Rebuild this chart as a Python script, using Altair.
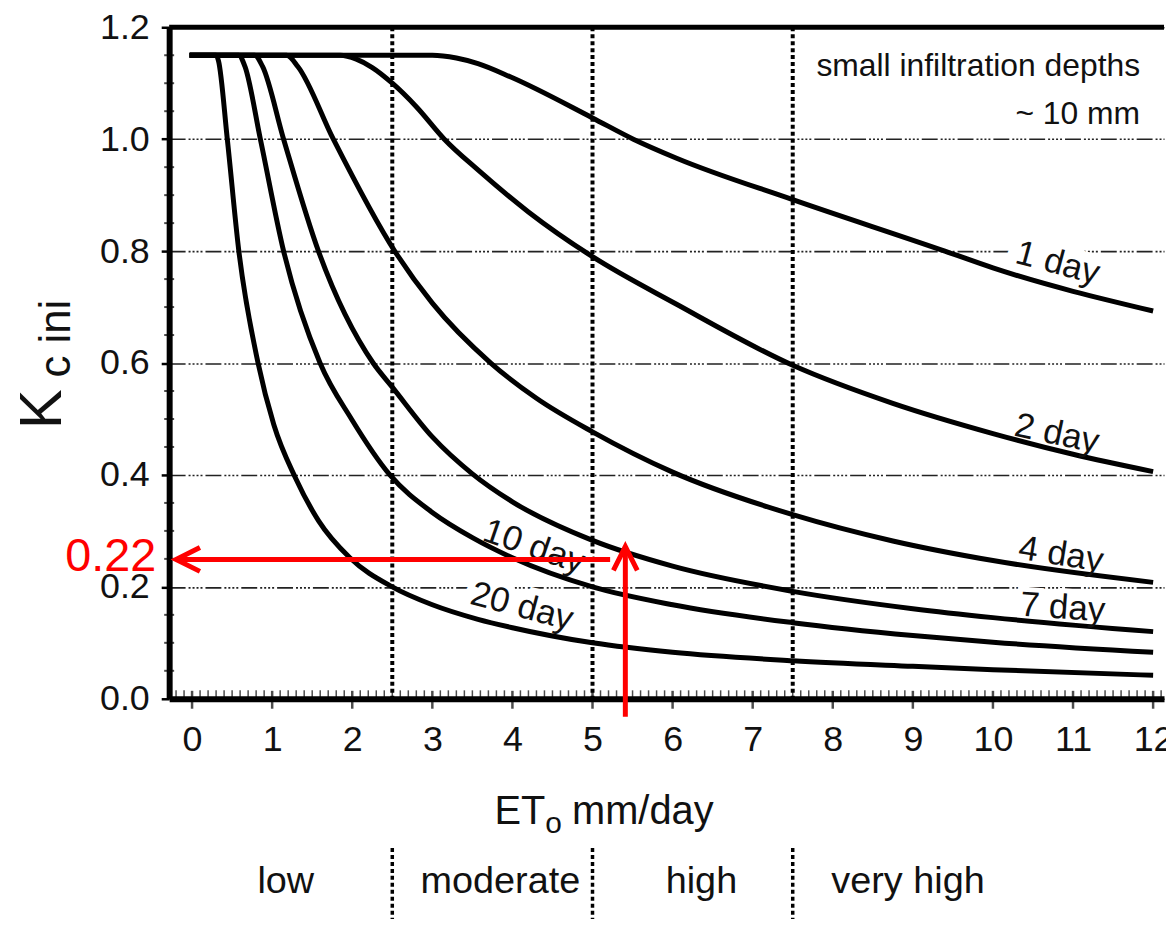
import altair as alt
import numpy as np
import pandas as pd

FONT = "Liberation Sans"
INK = "#111111"
RED = "#ff0000"

# ---------------- data ----------------
curve_names = ["20 day", "10 day", "7 day", "4 day", "2 day", "1 day"]

et_20 = [-0.03, 0.30, 0.33, 0.44, 0.584, 0.824, 1.02, 1.29, 1.58, 1.97, 2.5, 3.0, 3.57, 4.0, 5.0, 6.0, 7.5, 9.0, 10.0, 12.0]
kc_20 = [1.15, 1.15, 1.14, 1.00, 0.80, 0.60, 0.49, 0.395, 0.318, 0.252, 0.200, 0.168, 0.142, 0.127, 0.100, 0.083, 0.068, 0.058, 0.052, 0.042]

et_10 = [-0.03, 0.58, 0.66, 0.853, 1.143, 1.598, 1.99, 2.47, 3.0, 3.5, 4.0, 5.0, 6.0, 7.5, 9.0, 10.0, 12.0]
kc_10 = [1.15, 1.15, 1.13, 1.00, 0.80, 0.60, 0.50, 0.40, 0.333, 0.288, 0.252, 0.200, 0.168, 0.136, 0.113, 0.101, 0.083]

et_7 = [-0.03, 0.78, 0.88, 1.143, 1.578, 2.261, 2.5, 3.0, 3.5, 4.0, 5.0, 6.0, 7.5, 9.0, 10.0, 12.0]
kc_7 = [1.15, 1.15, 1.13, 1.00, 0.80, 0.60, 0.557, 0.468, 0.402, 0.352, 0.283, 0.237, 0.192, 0.161, 0.145, 0.120]

et_4 = [-0.03, 1.18, 1.32, 1.764, 2.53, 3.0, 3.73, 4.3, 5.0, 6.0, 7.5, 8.75, 10.0, 12.0]
kc_4 = [1.15, 1.15, 1.13, 1.00, 0.80, 0.707, 0.60, 0.537, 0.477, 0.405, 0.329, 0.282, 0.247, 0.208]

et_2 = [-0.03, 1.85, 2.05, 2.25, 2.5, 2.8, 3.15, 3.57, 4.2, 5.0, 6.05, 7.5, 8.75, 10.0, 11.0, 12.0]
kc_2 = [1.15, 1.15, 1.143, 1.128, 1.10, 1.058, 1.00, 0.945, 0.87, 0.79, 0.705, 0.596, 0.528, 0.474, 0.437, 0.406]

et_1 = [-0.03, 3.0, 3.3, 3.57, 3.98, 5.0, 5.51, 6.05, 7.5, 9.4, 10.0, 12.0]
kc_1 = [1.15, 1.15, 1.145, 1.135, 1.111, 1.038, 1.0, 0.966, 0.892, 0.80, 0.77, 0.693]

# curve labels
label_text = ["1 day", "2 day", "4 day", "7 day", "10 day", "20 day"]
label_et = [10.81, 10.80, 10.85, 10.87, 4.27, 4.12]
label_kc = [0.779, 0.474, 0.258, 0.163, 0.272, 0.165]
label_angle = [15, 12, 9, 4, 19, 15]

# ETo classes
class_names = ["low", "moderate", "high", "very high"]
class_centers = [1.17, 3.85, 6.36, 8.94]
class_bounds = [2.5, 5.0, 7.5]

# axis ticks
x_major = list(range(0, 13))
x_minor = [round(v, 1) for v in np.arange(-0.2, 12.15, 0.1) if abs(v - round(v)) > 1e-6]
y_major = [0.0, 0.2, 0.4, 0.6, 0.8, 1.0, 1.2]
y_minor = [round(0.05 * i, 2) for i in range(1, 24) if i % 4 != 0]

# red reading example
read_et = 5.41
read_kc = 0.249

# ---------------- build tables ----------------
curves = pd.concat(
    [
        pd.DataFrame({"et": e, "kc": k, "curve": n})
        for n, e, k in zip(
            curve_names,
            [et_20, et_10, et_7, et_4, et_2, et_1],
            [kc_20, kc_10, kc_7, kc_4, kc_2, kc_1],
        )
    ],
    ignore_index=True,
)
halo_width = [22, 12, 12, 10, 10, 14]
labels = pd.DataFrame({"t": label_text, "et": label_et, "kc": label_kc,
                       "ang": label_angle, "hw": halo_width})
classes = pd.DataFrame({"t": class_names, "et": class_centers})
bounds = pd.DataFrame({"et": class_bounds})

W, H = 1000, 675
xs = alt.Scale(domain=[-0.286, 12.136], nice=False, zero=False)
ys = alt.Scale(domain=[0, 1.2], nice=False, zero=False)

x_axis = alt.Axis(
    values=x_major, format="d", title=None, grid=False, ticks=False, tickSize=0,
    domain=True, domainWidth=6, domainColor="black",
    labelFont=FONT, labelFontSize=36, labelColor=INK, labelPadding=24,
    labelFlush=False, labelOverlap=False,
)
y_axis = alt.Axis(
    values=y_major, format=".1f", title=None,
    domain=True, domainWidth=6, domainColor="black",
    ticks=True, tickSize=8, tickWidth=2.5, tickColor="black",
    grid=True, gridColor="#222222", gridWidth=1.6,
    gridDash=[16, 3, 2, 2, 2, 2, 2, 2, 2, 3],
    labelFont=FONT, labelFontSize=36, labelColor=INK, labelPadding=12,
    labelFlush=False, labelOverlap=False,
)

# every layer uses the same scales and the same axis definitions
X = lambda f: alt.X(f, type="quantitative", scale=xs, axis=x_axis)
Y = lambda f: alt.Y(f, type="quantitative", scale=ys, axis=y_axis)

# vertical dashed class boundaries inside the plot
vlines = alt.Chart(bounds).mark_rule(color="black", strokeWidth=4, strokeDash=[4, 3]).encode(
    x=X("et"), y=alt.value(0), y2=alt.value(H)
)
# class separators below the axis
vsep = alt.Chart(bounds).mark_rule(color="black", strokeWidth=3.5, strokeDash=[4, 3]).encode(
    x=X("et"), y=alt.value(825), y2=alt.value(905)
)

halo = alt.Chart(labels).mark_text(
    font=FONT, fontSize=35, stroke="white", color="white",
    align="center", baseline="middle",
).encode(
    x=X("et"), y=Y("kc"), text="t:N",
    angle=alt.Angle("ang:Q", scale=None),
    strokeWidth=alt.StrokeWidth("hw:Q", scale=None),
)

lines = alt.Chart(curves).mark_line(
    color="black", strokeWidth=5, interpolate="monotone", strokeCap="butt"
).encode(x=X("et"), y=Y("kc"), detail="curve:N")

xmaj = alt.Chart(pd.DataFrame({"et": x_major})).mark_tick(
    orient="vertical", size=18, thickness=2.5, color="black"
).encode(x=X("et"), y=alt.value(H + 1))
xmin = alt.Chart(pd.DataFrame({"et": x_minor})).mark_tick(
    orient="vertical", size=9, thickness=1.5, color="black"
).encode(x=X("et"), y=alt.value(H - 4))
ymin = alt.Chart(pd.DataFrame({"kc": y_minor})).mark_tick(
    orient="horizontal", size=10, thickness=2, color="black"
).encode(y=Y("kc"), x=alt.value(0))

top = alt.Chart(pd.DataFrame({"kc": [1.2]})).mark_rule(color="black", strokeWidth=5).encode(
    y=Y("kc"), x=alt.value(0), x2=alt.value(W)
)

curve_text = alt.Chart(labels).mark_text(
    font=FONT, fontSize=35, color=INK, align="center", baseline="middle"
).encode(x=X("et"), y=Y("kc"), text="t:N", angle=alt.Angle("ang:Q", scale=None))

class_text = alt.Chart(classes).mark_text(
    font=FONT, fontSize=38, color=INK, align="center", baseline="alphabetic"
).encode(x=X("et"), y=alt.value(870), text="t:N")

# red reading arrows
red_h = alt.Chart(pd.DataFrame({"a": [-0.2], "b": [5.22], "k": [read_kc]})).mark_rule(
    color=RED, strokeWidth=5, strokeCap="butt"
).encode(x=X("a"), x2="b:Q", y=Y("k"))
red_v = alt.Chart(pd.DataFrame({"e": [read_et], "k0": [-0.032], "k1": [0.272]})).mark_rule(
    color=RED, strokeWidth=5, strokeCap="butt"
).encode(x=X("e"), y=Y("k0"), y2="k1:Q")
head_l = alt.Chart(pd.DataFrame({"e": [-0.2], "k": [read_kc]})).mark_point(
    shape="M2,-1L0,0L2,1", size=576, filled=False, stroke=RED, strokeWidth=5, opacity=1
).encode(x=X("e"), y=Y("k"))
head_u = alt.Chart(pd.DataFrame({"e": [read_et], "k": [0.272]})).mark_point(
    shape="M-1,2L0,0L1,2", size=576, filled=False, stroke=RED, strokeWidth=5, opacity=1
).encode(x=X("e"), y=Y("k"))


def txt(t, x, y, size, align="left", angle=0, color=INK):
    kw = dict(font=FONT, fontSize=size, color=color, align=align, baseline="alphabetic")
    if angle:
        kw["angle"] = angle
    return alt.Chart(pd.DataFrame({"t": [t]})).mark_text(**kw).encode(
        x=alt.value(x), y=alt.value(y), text="t:N"
    )


titles = [
    txt("ET", 327, 801, 40),
    txt("o", 378, 810, 30),
    txt("mm/day", 405, 801, 40),
    txt("K", -109, 384, 60, align="center", angle=270),
    txt("c ini", -100, 313, 44, align="center", angle=270),
    txt("0.22", -13, 547, 47, align="right", color=RED),
    txt("small infiltration depths", 976, 49, 32, align="right"),
    txt("~ 10 mm", 976, 97, 32, align="right"),
]

chart = alt.layer(
    vlines, vsep, halo, lines, xmin, xmaj, ymin, top,
    curve_text, class_text, red_h, red_v, head_l, head_u, *titles
).properties(
    width=W, height=H,
    padding={"left": 162, "top": 17, "right": 2, "bottom": 219},
    autosize=alt.AutoSizeParams(type="none"),
    background="white",
).configure_view(stroke=None)

chart.save("out.html", embed_options={"renderer": "svg", "actions": False})
